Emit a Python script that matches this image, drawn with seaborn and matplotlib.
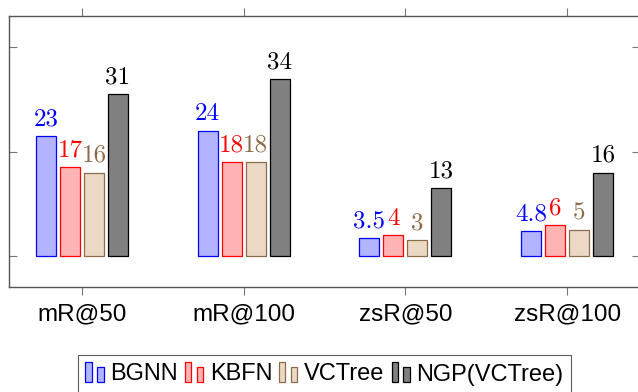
import pandas as pd
import matplotlib
matplotlib.use('Agg')
import matplotlib.pyplot as plt
import seaborn as sns
from matplotlib.legend_handler import HandlerBase
from matplotlib.patches import Rectangle

# Data
metrics = ['mR@50', 'mR@100', 'zsR@50', 'zsR@100']
models = ['BGNN', 'KBFN', 'VCTree', 'NGP(VCTree)']
bgnn = [23, 24, 3.5, 4.8]
kbfn = [17, 18, 4, 6]
vctree = [16, 18, 3, 5]
ngp = [31, 34, 13, 16]
bgnn_labels = ['23', '24', '3.5', '4.8']
kbfn_labels = ['17', '18', '4', '6']
vctree_labels = ['16', '18', '3', '5']
ngp_labels = ['31', '34', '13', '16']

fills = ['#b3b3ff', '#ffb3b3', '#ebd9c6', '#808080']
edges = ['#0000ff', '#ff0000', '#8d6b48', '#000000']
text_colors = ['#0000ff', '#ff0000', '#8d6b48', '#000000']

df = pd.DataFrame({
    'metric': metrics * 4,
    'model': [m for m in models for _ in metrics],
    'value': bgnn + kbfn + vctree + ngp,
})
all_labels = [bgnn_labels, kbfn_labels, vctree_labels, ngp_labels]

sns.set_style('white')
plt.rcParams['font.family'] = ['Liberation Sans', 'DejaVu Sans']
plt.rcParams['text.color'] = 'black'
plt.rcParams['xtick.color'] = 'black'

fig = plt.figure(figsize=(6.38, 3.92), dpi=100)
ax = fig.add_axes([9 / 638, 1 - 286.5 / 392, 631 / 638, 270.5 / 392])

sns.barplot(data=df, x='metric', y='value', hue='model', order=metrics,
            hue_order=models, palette=fills, saturation=1, width=0.593, gap=0.16,
            linewidth=0.9, legend=False, ax=ax)

for cont, ec, tc, labs in zip(ax.containers, edges, text_colors, all_labels):
    for bar in cont:
        bar.set_edgecolor(ec)
    ax.bar_label(cont, labels=labs, padding=4, color=tc,
                 fontfamily='cmr10', fontsize=18)

ax.set_xlim(-0.451, 3.451)
ax.set_ylim(-5.85, 46.0)
ax.set_yticks([0, 20, 40])
ax.set_yticklabels([])
ax.set_xlabel('')
ax.set_ylabel('')
ax.tick_params(axis='y', direction='in', length=6, width=0.8, color='#777777',
               left=True, right=True)
ax.tick_params(axis='x', direction='out', length=6, width=0.8, color='#777777',
               labelcolor='black', top=True, bottom=True, labelsize=17.5, pad=6)
for s in ax.spines.values():
    s.set_color('#555555')
    s.set_linewidth(1.0)


class TwoBars(HandlerBase):
    def create_artists(self, legend, orig, xd, yd, w, h, fontsize, trans):
        fc = orig.get_facecolor()
        ec = orig.get_edgecolor()
        r1 = Rectangle((-xd, -yd), w * 0.32, h * 1.05, facecolor=fc, edgecolor=ec,
                       linewidth=0.9, transform=trans)
        r2 = Rectangle((-xd + w * 0.62, -yd), w * 0.34, h * 0.78, facecolor=fc,
                       edgecolor=ec, linewidth=0.9, transform=trans)
        return [r1, r2]


handles = [Rectangle((0, 0), 1, 1, facecolor=f, edgecolor=e) for f, e in zip(fills, edges)]
leg = fig.legend(handles, models, loc='upper center', ncol=4,
                 bbox_to_anchor=(324.5 / 638, 1 - 355 / 392),
                 handler_map={Rectangle: TwoBars()}, fontsize=17,
                 handlelength=0.8, handleheight=0.9, handletextpad=0.25,
                 columnspacing=0.3, borderpad=0.32, borderaxespad=0,
                 frameon=True, fancybox=False)
leg.get_frame().set_edgecolor('#333333')
leg.get_frame().set_linewidth(0.8)
for t in leg.get_texts():
    t.set_color('black')

plt.savefig('out.png', dpi=100)
